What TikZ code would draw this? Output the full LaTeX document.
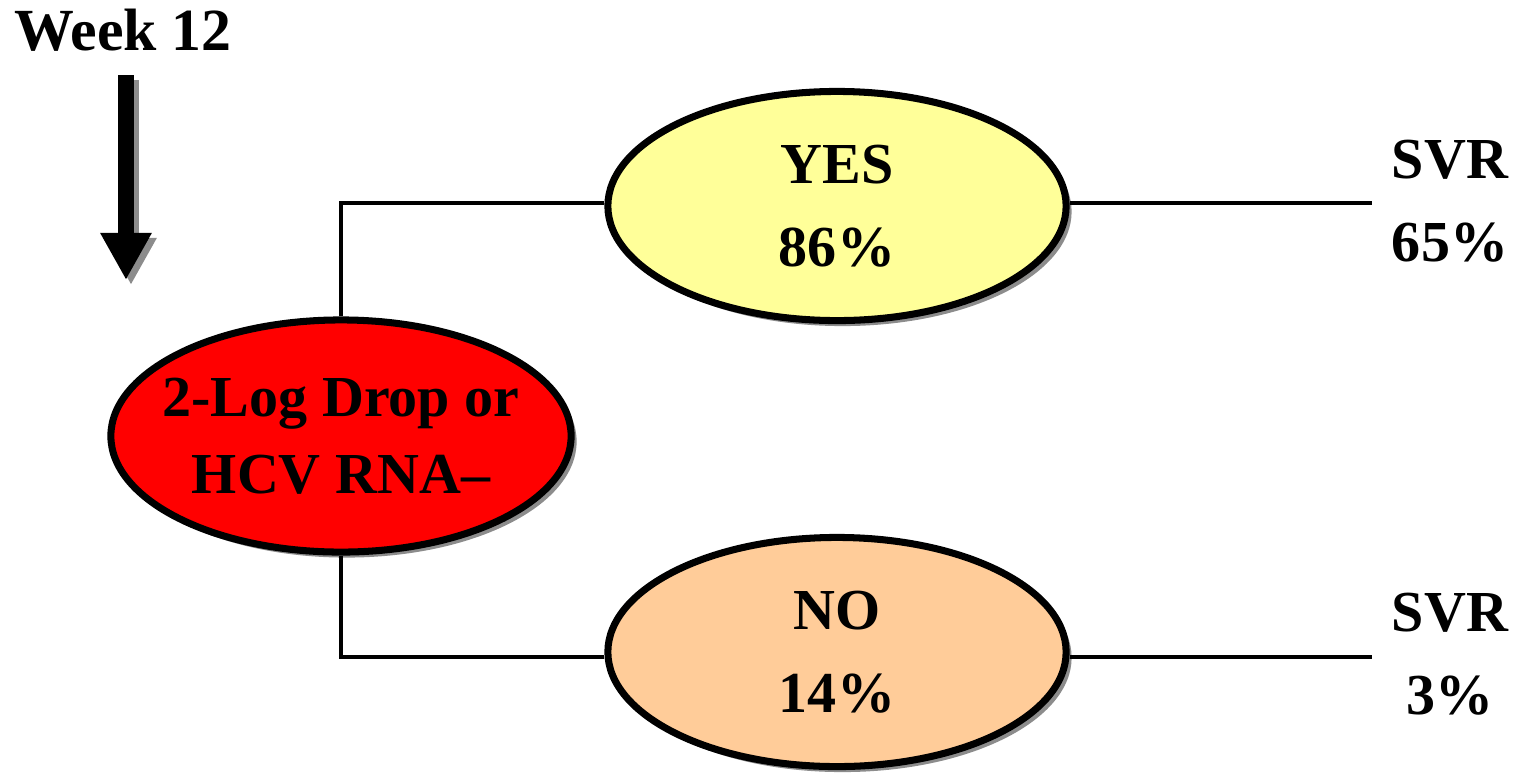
\documentclass[tikz,border=0pt]{standalone}
\usepackage{fontspec}
\setmainfont{Liberation Serif}
\usetikzlibrary{shapes.geometric,shadows,arrows.meta}
\definecolor{yesfill}{HTML}{FFFF99}
\definecolor{nofill}{HTML}{FFCC99}
\definecolor{redfill}{HTML}{FF0000}
\begin{document}
\begin{tikzpicture}[x=0.01cm,y=-0.01cm,
  oval/.style={ellipse,draw=black,line width=2pt,inner xsep=-1cm,inner ysep=-0.6cm,
    minimum width=4.58cm,minimum height=2.29cm,align=center,
    font=\bfseries\fontsize{16.5pt}{23.5pt}\selectfont,
    drop shadow={shadow xshift=0.055cm,shadow yshift=-0.055cm,fill=black!60,opacity=0.75}},
  link/.style={line width=1.3pt,draw=black},
  lbl/.style={align=center,inner sep=0pt,font=\bfseries\fontsize{16.5pt}{23.5pt}\selectfont}]
\useasboundingbox[fill=white] (0,0) rectangle (1518,778);
\coordinate (e1) at (1372,203);
\coordinate (e2) at (1372,657);
\node[oval,fill=yesfill] (yes) at (837,206) {YES\\86\%};
\node[oval,fill=nofill] (no) at (837,652) {NO\\14\%};
\node[oval,fill=redfill,minimum width=4.6cm,minimum height=2.32cm,
  font=\bfseries\fontsize{16.5pt}{22pt}\selectfont] (red) at (341,436) {2-Log Drop or\\HCV RNA--};
\draw[link] (red.north) |- ([yshift=0.03cm]yes.west);
\draw[link] (red.south) |- ([yshift=-0.05cm]no.west);
\draw[link] ([yshift=0.03cm]yes.east) -- ([yshift=0.03cm]yes.east -| e1);
\draw[link] ([yshift=-0.05cm]no.east) -- ([yshift=-0.05cm]no.east -| e2);
\node[lbl] (svr1) at (1450,201) {SVR\\65\%};
\node[lbl] (svr2) at (1450,654) {SVR\\3\%};
\node[inner sep=0pt,font=\bfseries\fontsize{17pt}{20pt}\selectfont] (week) at (123,30) {Week 12};
\coordinate (atop) at (126,75);
\coordinate (atip) at (126,280);
\draw[line width=0.16cm,black!45,-{Triangle[width=0.48cm,length=0.47cm]}] ([shift={(5,5)}]atop) -- ([shift={(5,5)}]atip);
\draw[line width=0.16cm,black,-{Triangle[width=0.48cm,length=0.47cm]}] (atop) -- (atip);
\end{tikzpicture}
\end{document}
